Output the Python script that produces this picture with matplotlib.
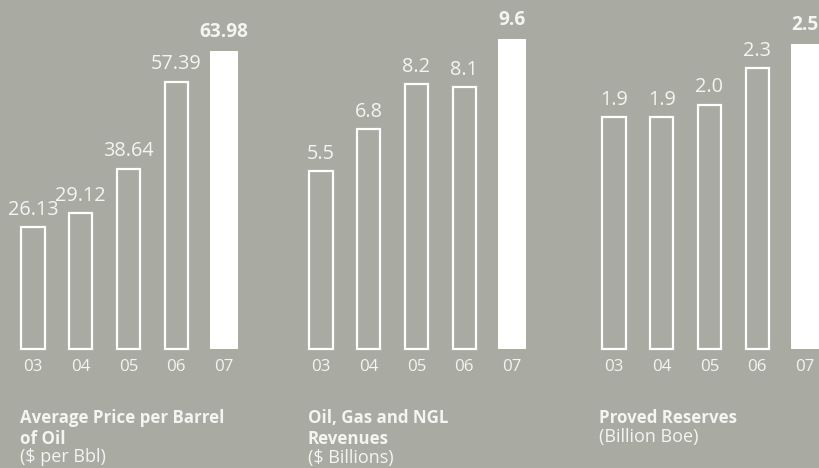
import matplotlib
matplotlib.use("Agg")
import matplotlib.pyplot as plt

years = ["03", "04", "05", "06", "07"]
oil_price = [26.13, 29.12, 38.64, 57.39, 63.98]
revenues = [5.5, 6.8, 8.2, 8.1, 9.6]
reserves = [1.9, 1.9, 2.0, 2.3, 2.5]
oil_labels = ["26.13", "29.12", "38.64", "57.39", "63.98"]
rev_labels = ["5.5", "6.8", "8.2", "8.1", "9.6"]
res_labels = ["1.9", "1.9", "2.0", "2.3", "2.5"]

BG = "#a9aba2"
FONT = "Open Sans"
W, H = 820, 468
fig = plt.figure(figsize=(W / 100, H / 100), dpi=100, facecolor=BG)

def px2pt(p):
    return p * 0.72

panels = [
    dict(left=9, ymax=349 / 4.66, vals=oil_price, labels=oil_labels,
         title=["Average Price per Barrel", "of Oil"], sub="($ per Bbl)", tx=20),
    dict(left=297, ymax=349 / 32.3, vals=revenues, labels=rev_labels,
         title=["Oil, Gas and NGL", "Revenues"], sub="($ Billions)", tx=308),
    dict(left=590, ymax=349 / 122.0, vals=reserves, labels=res_labels,
         title=["Proved Reserves"], sub="(Billion Boe)", tx=599),
]

bottom_px = 349
unit = 47.8
for p in panels:
    aw = 5 * unit
    ax = fig.add_axes([p["left"] / W, (H - bottom_px) / H, aw / W, bottom_px / H])
    ax.set_facecolor("none")
    ax.set_xlim(-0.5, 4.5)
    ax.set_ylim(0, p["ymax"])
    ax.axis("off")
    xs = list(range(len(years)))
    ax.bar(xs[:4], p["vals"][:4], width=23.5 / unit, facecolor="none",
           edgecolor="white", linewidth=px2pt(2.2), clip_on=False)
    ax.bar(xs[4], p["vals"][4], width=28 / unit, facecolor="white",
           edgecolor="none", clip_on=False)
    for i, (v, lab) in enumerate(zip(p["vals"], p["labels"])):
        bold = i == 4
        ax.annotate(lab, xy=(i, v), xytext=(0, px2pt(14 if bold else 12.5)),
                    textcoords="offset points",
                    ha="center", va="baseline", color="#f4f4f0",
                    fontsize=13.8 if bold else 14.3,
                    family=FONT, fontweight="bold" if bold else "normal",
                    annotation_clip=False)
        ax.annotate(years[i], xy=(i, 0), xytext=(0, -px2pt(22)), textcoords="offset points",
                    ha="center", va="baseline", color="#f4f4f0", fontsize=12.2,
                    family=FONT, annotation_clip=False)
    y = 423
    for line in p["title"]:
        fig.text(p["tx"] / W, 1 - y / H, line, color="#f4f4f0", fontsize=12.2,
                 family=FONT, fontweight="bold", ha="left", va="baseline")
        y += 20.5
    fig.text(p["tx"] / W, 1 - (y - 1.5) / H, p["sub"], color="#f4f4f0", fontsize=13,
             family=FONT, ha="left", va="baseline")

fig.savefig("out.png", dpi=100, facecolor=BG)
